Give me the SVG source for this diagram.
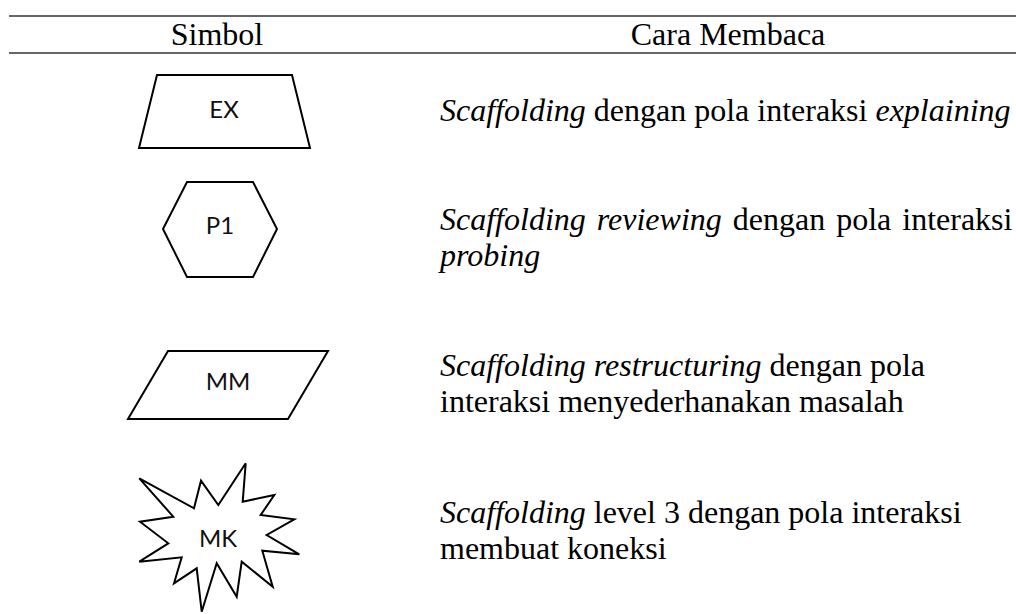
<svg xmlns="http://www.w3.org/2000/svg" width="1016" height="614" viewBox="0 0 1016 614">
  <style>
    .rule { stroke: #666666; stroke-width: 2; fill: none; }
    .shape { fill: #ffffff; stroke: #000000; stroke-width: 2; stroke-linejoin: miter; }
    .head { font-family: "Liberation Serif", "Times New Roman", serif; font-size: 32px; fill: #000; text-anchor: middle; }
    .desc { font-family: "Liberation Serif", "Times New Roman", serif; font-size: 32px; fill: #000; }
    .it { font-style: italic; }
    .lbl { font-family: Lato, "Noto Sans", sans-serif; font-size: 24px; fill: #111; text-anchor: middle; }
  </style>
  <rect width="1016" height="614" fill="#ffffff"/>

  <!-- table rules and header -->
  <g id="header">
    <line class="rule" x1="9" y1="16" x2="1016" y2="16"/>
    <line class="rule" x1="9" y1="53" x2="1016" y2="53"/>
    <text class="head" x="217" y="45">Simbol</text>
    <text class="head" x="728" y="45">Cara Membaca</text>
  </g>

  <!-- symbols -->
  <g id="ex">
    <polygon class="shape" points="157,75 292,75 310,148 139,148"/>
    <text class="lbl" x="224" y="118">EX</text>
  </g>
  <g id="p1">
    <polygon class="shape" points="187,182 253,182 277,229 253,277 187,277 163,229"/>
    <text class="lbl" x="220" y="234">P1</text>
  </g>
  <g id="mm">
    <polygon class="shape" points="168,351 328,351 288,419 128,419"/>
    <text class="lbl" x="228" y="390">MM</text>
  </g>
  <g id="mk">
    <polygon class="shape" points="139.3,478.3 194,508.3 201,480.7 218.3,505 245.7,463.3 242.7,501.7 274.3,495 260.7,515 294.3,519.3 266.7,535 299.3,554.3 262.3,550.7 272.7,586.7 241.7,561.7 236.7,596.7 216.7,563.3 201.7,611.7 196.7,568.3 174,583.3 181.7,557.3 139.3,561.7 168.3,543.3 140,521.7 173.3,516.7"/>
    <text class="lbl" x="218" y="547">MK</text>
  </g>

  <!-- descriptions -->
  <g id="desc-ex">
    <text class="desc" x="440" y="121"><tspan class="it">Scaffolding</tspan> dengan pola interaksi <tspan class="it">explaining</tspan></text>
  </g>
  <g id="desc-p1">
    <text class="desc" x="440" y="230" word-spacing="3"><tspan class="it">Scaffolding reviewing</tspan> dengan pola interaksi</text>
    <text class="desc it" x="440" y="266">probing</text>
  </g>
  <g id="desc-mm">
    <text class="desc" x="440" y="376"><tspan class="it">Scaffolding restructuring</tspan> dengan pola</text>
    <text class="desc" x="440" y="412">interaksi menyederhanakan masalah</text>
  </g>
  <g id="desc-mk">
    <text class="desc" x="440" y="523"><tspan class="it">Scaffolding</tspan> level 3 dengan pola interaksi</text>
    <text class="desc" x="440" y="559">membuat koneksi</text>
  </g>
</svg>
